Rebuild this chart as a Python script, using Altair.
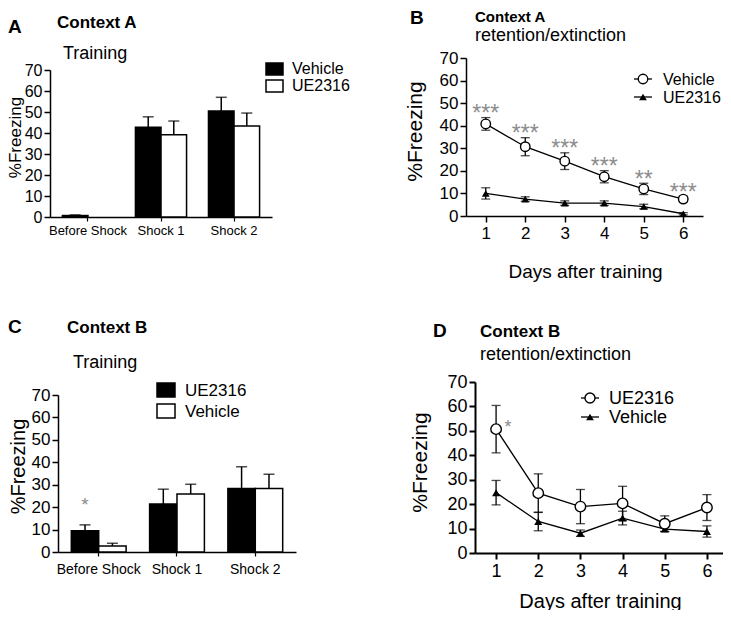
import altair as alt
import pandas as pd

# ---------------- data ----------------
categories = ["Before Shock", "Shock 1", "Shock 2"]

# Panel A: Context A, training (Vehicle black, UE2316 white)
a_groups = ["Vehicle", "UE2316"]
a_vehicle = [0.7, 42.7, 50.5]
a_vehicle_sem = [0.3, 5.0, 6.5]
a_ue = [0.0, 39.2, 43.3]
a_ue_sem = [0.0, 6.5, 6.2]

# Panel B: Context A, retention/extinction
days = [1, 2, 3, 4, 5, 6]
b_groups = ["Vehicle", "UE2316"]
b_vehicle = [40.8, 30.7, 24.3, 17.4, 12.0, 7.5]
b_vehicle_sem = [2.8, 4.0, 3.7, 2.7, 2.5, 1.3]
b_ue = [10.0, 7.5, 5.7, 5.7, 4.2, 1.0]
b_ue_sem = [2.5, 1.0, 1.0, 1.0, 1.0, 0.5]
b_stars = ["***", "***", "***", "***", "**", "***"]

# Panel C: Context B, training (UE2316 black, Vehicle white)
c_groups = ["UE2316", "Vehicle"]
c_ue = [9.5, 21.4, 28.3]
c_ue_sem = [2.6, 6.6, 9.7]
c_vehicle = [2.7, 25.9, 28.3]
c_vehicle_sem = [1.2, 4.3, 6.4]
c_stars = ["*", "", ""]

# Panel D: Context B, retention/extinction
d_groups = ["UE2316", "Vehicle"]
d_ue = [50.7, 24.5, 19.0, 20.3, 12.0, 18.6]
d_ue_sem = [9.7, 7.9, 7.0, 7.0, 3.2, 5.3]
d_vehicle = [24.7, 12.9, 8.1, 14.3, 9.8, 8.8]
d_vehicle_sem = [5.0, 3.8, 1.3, 2.8, 1.0, 2.3]
d_stars = ["*", "", "", "", "", ""]

y_ticks = [0, 10, 20, 30, 40, 50, 60, 70]

# ---------------- layout helpers ----------------
W, H = 715, 602
OX, OY = 8, 8
FONT = "Liberation Sans"
STAR_GRAY = "#8c8c8c"


def X(p):
    return p - OX


def Y(p):
    return p - OY


def bar_df(groups, series, sems):
    rows = []
    for g, vals, ss in zip(groups, series, sems):
        for c, v, s in zip(categories, vals, ss):
            rows.append({"cat": c, "grp": g, "mean": v, "hi": v + s})
    return pd.DataFrame(rows)


def line_df(groups, series, sems):
    rows = []
    for g, vals, ss in zip(groups, series, sems):
        for d, v, s in zip(days, vals, ss):
            rows.append({"day": d, "grp": g, "mean": v, "lo": max(v - s, 0), "hi": v + s})
    return pd.DataFrame(rows)


def dummy():
    return alt.Chart(alt.Data(values=[{}]))


def txt(s, x, y, size, bold=False, color="black"):
    return dummy().mark_text(
        text=s, align="left", baseline="alphabetic", font=FONT, fontSize=size,
        fontWeight="bold" if bold else "normal", color=color,
    ).encode(x=alt.value(X(x)), y=alt.value(Y(y)))


def y_axis(ax_x, title_x, title_y, title_fs, tick_fs, width):
    return alt.Axis(
        orient="left", offset=-X(ax_x), values=y_ticks, title="%Freezing",
        titleX=X(title_x) - X(ax_x), titleY=Y(title_y), titleAngle=270,
        titleBaseline="alphabetic", titleAlign="center", titleFontSize=title_fs,
        titleFontWeight="normal", labelFontSize=tick_fs, tickSize=6, labelPadding=2,
        domainWidth=width, tickWidth=width,
    )


def bar_panel(df, groups, x0, x1, y0, y70, tick_fs, lab_fs, title_fs, title_x, title_y, lab_pad):
    xs = alt.Scale(domain=categories, range=[X(x0), X(x1)], paddingInner=0.3, paddingOuter=0.17)
    ys = alt.Scale(domain=[0, 70], range=[Y(y0), Y(y70)], nice=False, zero=False)
    xaxis = alt.Axis(
        orient="bottom", offset=Y(y0) - H, title=None, labelAngle=0, labelFontSize=lab_fs,
        tickSize=4, labelPadding=lab_pad, domainWidth=1.5, tickWidth=1.2,
    )
    yaxis = y_axis(x0, title_x, title_y, title_fs, tick_fs, 1.5)
    x = alt.X("cat:N", scale=xs, axis=xaxis, sort=categories)
    xo = alt.XOffset("grp:N", scale=alt.Scale(domain=groups), sort=groups)
    base = alt.Chart(df)
    bars = base.transform_filter(alt.datum.mean > 0).mark_bar(stroke="black", strokeWidth=1.5).encode(
        x=x, xOffset=xo,
        y=alt.Y("mean:Q", scale=ys, axis=yaxis),
        fill=alt.Fill("grp:N", scale=alt.Scale(domain=groups, range=["black", "white"]), legend=None),
    )
    err = base.mark_rule(color="black", strokeWidth=1.5).encode(
        x=x, xOffset=xo, y=alt.Y("mean:Q", scale=ys, axis=yaxis), y2="hi:Q"
    )
    cap = base.transform_filter(alt.datum.hi > 0).mark_tick(
        color="black", thickness=1.5, size=11, orient="horizontal"
    ).encode(x=x, xOffset=xo, y=alt.Y("hi:Q", scale=ys, axis=yaxis))
    return bars, err, cap, x, xo, ys, yaxis


def line_panel(df, open_grp, filled_grp, x0, x1, y0, y70, tick_fs, lab_fs, title_fs,
               ytitle_x, ytitle_y, xtitle_x, xtitle_y, xtitle_fs, width, csize, tsize):
    xs = alt.Scale(domain=[0.5, 6.5], range=[X(x0), X(x1)], nice=False, zero=False)
    ys = alt.Scale(domain=[0, 70], range=[Y(y0), Y(y70)], nice=False, zero=False)
    xaxis = alt.Axis(
        orient="bottom", offset=Y(y0) - H, values=days, format="d",
        title="Days after training", titleX=X(xtitle_x), titleY=Y(xtitle_y) - Y(y0),
        titleBaseline="alphabetic", titleAlign="center", titleFontSize=xtitle_fs,
        titleFontWeight="normal", labelFontSize=lab_fs, tickSize=6, labelPadding=3,
        domainWidth=width, tickWidth=width,
    )
    yaxis = y_axis(x0, ytitle_x, ytitle_y, title_fs, tick_fs, width)
    x = alt.X("day:Q", scale=xs, axis=xaxis)
    base = alt.Chart(df)
    err = base.mark_rule(color="black", strokeWidth=1.3).encode(
        x=x, y=alt.Y("lo:Q", scale=ys, axis=yaxis), y2="hi:Q"
    )
    cap_hi = base.mark_tick(color="black", thickness=1.3, size=9, orient="horizontal").encode(
        x=x, y=alt.Y("hi:Q", scale=ys, axis=yaxis)
    )
    cap_lo = base.mark_tick(color="black", thickness=1.3, size=9, orient="horizontal").encode(
        x=x, y=alt.Y("lo:Q", scale=ys, axis=yaxis)
    )
    line = base.mark_line(color="black", strokeWidth=1.3).encode(
        x=x, y=alt.Y("mean:Q", scale=ys, axis=yaxis), detail="grp:N"
    )
    circles = base.transform_filter(alt.datum.grp == open_grp).mark_point(
        shape="circle", filled=True, fill="white", stroke="black", strokeWidth=1.4,
        size=csize, opacity=1,
    ).encode(x=x, y=alt.Y("mean:Q", scale=ys, axis=yaxis))
    tris = base.transform_filter(alt.datum.grp == filled_grp).mark_point(
        shape="triangle-up", filled=True, color="black", size=tsize, opacity=1,
    ).encode(x=x, y=alt.Y("mean:Q", scale=ys, axis=yaxis))
    return [err, cap_hi, cap_lo, line, tris, circles], x, ys, yaxis


# ---------------- Panel A ----------------
dfA = bar_df(a_groups, [a_vehicle, a_ue], [a_vehicle_sem, a_ue_sem])
barsA, errA, capA, xA, xoA, ysA, yaxA = bar_panel(
    dfA, a_groups, 50, 272, 217, 70, 16, 13, 17, 20.5, 137, 3)
panelA = alt.layer(barsA, errA, capA)

# ---------------- Panel B ----------------
dfB = line_df(b_groups, [b_vehicle, b_ue], [b_vehicle_sem, b_ue_sem])
layersB, xB, ysB, yaxB = line_panel(
    dfB, "Vehicle", "UE2316", 466, 703, 216, 58, 17, 17, 21,
    421, 131, 585, 277, 19, 1.5, 90, 60)
dfBs = pd.DataFrame({"day": days, "hi": [v + s for v, s in zip(b_vehicle, b_vehicle_sem)], "star": b_stars})
starsB = alt.Chart(dfBs).mark_text(
    color=STAR_GRAY, fontSize=23, font=FONT, baseline="alphabetic", align="center", dy=3.5
).encode(x=xB, y=alt.Y("hi:Q", scale=ysB, axis=yaxB), text="star:N")
panelB = alt.layer(*layersB, starsB)

# ---------------- Panel C ----------------
dfC = bar_df(c_groups, [c_ue, c_vehicle], [c_ue_sem, c_vehicle_sem])
barsC, errC, capC, xC, xoC, ysC, yaxC = bar_panel(
    dfC, c_groups, 58, 296, 552, 395, 17, 14, 20, 24, 466, 6)
dfCs = pd.DataFrame({
    "cat": categories, "grp": [c_groups[0]] * 3,
    "hi": [v + s for v, s in zip(c_ue, c_ue_sem)], "star": c_stars,
})
starsC = alt.Chart(dfCs).mark_text(
    color=STAR_GRAY, fontSize=19, font=FONT, baseline="alphabetic", align="center", dy=-14
).encode(x=xC, xOffset=xoC, y=alt.Y("hi:Q", scale=ysC, axis=yaxC), text="star:N")
panelC = alt.layer(barsC, errC, capC, starsC)

# ---------------- Panel D ----------------
dfD = line_df(d_groups, [d_ue, d_vehicle], [d_ue_sem, d_vehicle_sem])
layersD, xD, ysD, yaxD = line_panel(
    dfD, "UE2316", "Vehicle", 475, 728, 553, 382, 18, 18, 21,
    426, 462, 600, 607, 20, 2, 110, 65)
dfDs = pd.DataFrame({"day": days, "mean": d_ue, "star": d_stars})
starsD = alt.Chart(dfDs).mark_text(
    color=STAR_GRAY, fontSize=18, font=FONT, baseline="alphabetic", align="center", dx=12, dy=4
).encode(x=xD, y=alt.Y("mean:Q", scale=ysD, axis=yaxD), text="star:N")
panelD = alt.layer(*layersD, starsD)

# ---------------- titles ----------------
titles = [
    txt("A", 8, 33, 19, bold=True),
    txt("Context A", 57, 28, 17, bold=True),
    txt("Training", 63, 59, 18),
    txt("B", 410, 24, 19, bold=True),
    txt("Context A", 475, 22, 15, bold=True),
    txt("retention/extinction", 475, 41, 18),
    txt("C", 8, 333, 19, bold=True),
    txt("Context B", 67, 333, 17, bold=True),
    txt("Training", 73, 368, 18),
    txt("D", 433, 337, 19, bold=True),
    txt("Context B", 480, 337, 17, bold=True),
    txt("retention/extinction", 480, 360, 18),
]


# ---------------- manual legends ----------------
def rect_key(x0, x1, y0, y1, fill):
    return dummy().mark_rect(fill=fill, stroke="black", strokeWidth=1.5).encode(
        x=alt.value(X(x0)), x2=alt.value(X(x1)), y=alt.value(Y(y0)), y2=alt.value(Y(y1))
    )


def line_key(xc, yc, half, shape, size, filled_black):
    seg = dummy().mark_rule(color="black", strokeWidth=1.3).encode(
        x=alt.value(X(xc - half)), x2=alt.value(X(xc + half)), y=alt.value(Y(yc))
    )
    if filled_black:
        sym = dummy().mark_point(shape=shape, filled=True, color="black", size=size, opacity=1)
    else:
        sym = dummy().mark_point(shape=shape, filled=True, fill="white", stroke="black",
                                 strokeWidth=1.4, size=size, opacity=1)
    sym = sym.encode(x=alt.value(X(xc)), y=alt.value(Y(yc)))
    return [seg, sym]


legends = [
    rect_key(266, 283, 63, 75, "black"), txt(a_groups[0], 292, 74, 16),
    rect_key(266, 283, 80, 92, "white"), txt(a_groups[1], 292, 91, 16),
    rect_key(157, 175, 383, 397, "black"), txt(c_groups[0], 185, 396, 17),
    rect_key(157, 175, 404, 418, "white"), txt(c_groups[1], 185, 417, 17),
    *line_key(643, 79, 9, "circle", 90, False), txt(b_groups[0], 663, 85, 16),
    *line_key(643, 97, 9, "triangle-up", 60, True), txt(b_groups[1], 663, 103, 16),
    *line_key(590, 398, 9, "circle", 100, False), txt(d_groups[0], 609, 404, 18),
    *line_key(590, 417, 9, "triangle-up", 60, True), txt(d_groups[1], 609, 423, 18),
]

chart = alt.layer(
    panelA, panelB, panelC, panelD, *titles, *legends
).resolve_scale(
    x="independent", y="independent", xOffset="independent", fill="independent"
).resolve_axis(
    x="independent", y="independent"
).properties(
    width=W, height=H, autosize=alt.AutoSizeParams(type="none"), padding=0
).configure_view(
    stroke=None
).configure_axis(
    grid=False, domainColor="black", tickColor="black", labelColor="black",
    titleColor="black", labelFont=FONT, titleFont=FONT,
)

chart.save("out.html", embed_options={"renderer": "svg", "actions": False})
